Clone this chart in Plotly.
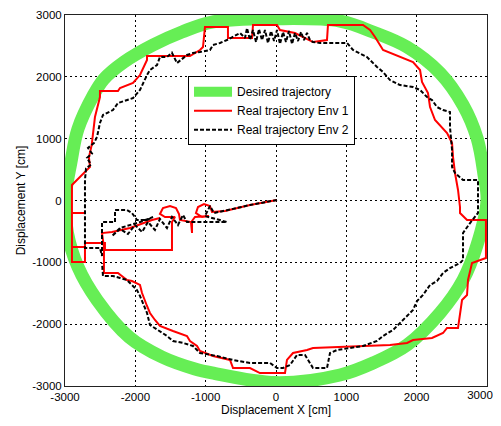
import plotly.graph_objects as go

# Desired trajectory (cm)
desired_x = [3000, 2960, 2858, 2659, 2332, 1863, 1379, 910, 0, -910,
             -1337, -1749, -2161, -2446, -2595, -2816, -2915, -3000, -2965, -2816,
             -2545, -2090, -1621, -1152, -910, 0, 910, 1379, 1863, 2332,
             2659, 2858, 3000]
desired_y = [0, 400, 1011, 1544, 2062, 2482, 2725, 2902, 2940, 2886,
             2725, 2515, 2240, 1965, 1706, 1156, 622, 0, -526, -1075,
             -1609, -2207, -2531, -2725, -2789, -2945, -2822, -2628, -2337, -1819,
             -1286, -720, 0]

# Real trajectory, environment 1 (cm)
env1_x = [14, -370, -725, -910, -939, -1024, -1109, -1138, -1052, -953,
          -1152, -1194, -1194, -1209, -1365, -1379, -1422, -1507, -1607, -1650,
          -1578, -1436, -1479, -1479, -1479, -2432, -2432, -2716, -2716, -2901,
          -2901, -2716, -2901, -2901, -2716, -2901, -2901,
          -2645, -2660, -2620, -2574, -2503, -2503, -2247, -2218, -2033, -1934,
          -1834, -1834, -1223, -1081, -1038, -1010, -683, -683, -341, -327,
          14, 57, 270, 526, 725, 739, 1237, 1337, 1408, 1522,
          1763, 1948, 2048, 2076, 2161, 2190, 2261, 2432, 2503, 2517,
          2545, 2588, 2616, 2616, 2716, 2985, 2985, 2901, 2787, 2730,
          2716, 2645, 2616, 2588, 2432, 2375, 2218, 1948, 1863, 1621,
          526, 441, 242, 156, 128, -228, -370, -611, -654, -896,
          -1081, -1123, -1223, -1266, -1465, -1650, -1721, -1792, -1834, -1905,
          -1934, -2048, -2119, -2247, -2446, -2446, -2446, -2474, -2332, -2076,
          -1763, -1650]
env1_y = [8, -73, -170, -186, -89, -57, -105, -202, -267, -251,
          -267, -331, -526, -348, -315, -218, -121, -89, -121, -218,
          -267, -267, -348, -590, -800, -800, -687, -687, -994, -994,
          -752, -752, -752, -202, -202, -202, 251,
          542, 700, 900, 1350, 1673, 1770, 1770, 1819, 1900, 2029,
          2272, 2337, 2337, 2434, 2482, 2805, 2805, 2628, 2628, 2838,
          2838, 2757, 2709, 2563, 2595, 2838, 2838, 2757, 2644, 2434,
          2320, 2240, 2110, 1916, 1738, 1512, 1302, 1092, 930, 703,
          445, 170, -105, -202, -315, -315, -930, -962, -1011, -1286,
          -1528, -1609, -1819, -2062, -2062, -2143, -2223, -2256, -2304, -2337,
          -2385, -2418, -2466, -2579, -2790, -2790, -2709, -2709, -2579, -2515,
          -2434, -2353, -2272, -2191, -2110, -2029, -1932, -1819, -1706, -1496,
          -1366, -1302, -1286, -1172, -1172, -1011, -752, -526, -509, -445,
          -315, -283]

# Real trajectory, environment 2 (cm)
env2_x = [14, -370, -683, -882, -939, -1010, -697, -1266, -1322, -1394,
          -1479, -1550, -1650, -1721, -1820, -1905, -2005, -2105, -2218, -2332,
          -2218, -1934, -1749, -1834, -1977, -2048, -2119, -2289, -2289, -2474,
          -2474, -2503, -2716, -2716, -2716, -2701, -2630, -2687, -2616, -2673,
          -2588, -2545, -2503, -2460, -2318, -2247, -2119, -2033, -1934, -1891,
          -1834, -1792, -1692, -1650, -1550, -1480, -1408, -1266, -1180, -1081,
          -939, -896, -796, -697, -611, -512, -441, -412, -370, -327,
          -284, -242, -199, -156, -114, -71, -28, 14, 57, 100,
          142, 185, 228, 270, 313, 356, 398, 441, 483, 526,
          626, 1010, 1095, 1152, 1294, 1436, 1522, 1621, 1763, 1948,
          2048, 2147, 2218, 2289, 2375, 2474, 2474, 2503, 2503, 2545,
          2659, 2872, 2872, 2759, 2659, 2659, 2616, 2474, 2375, 2289,
          2190, 2090, 2005, 1948, 1806, 1664, 1522, 1436, 1237, 1052,
          867, 768, 725, 526, 455, 412, 299, 199, 100, 14,
          -85, -270, -370, -611, -839, -1081, -1180, -1322, -1465, -1550,
          -1692, -1792, -1834, -1891, -1934, -1977, -2048, -2119, -2218, -2318,
          -2460, -2474]
env2_y = [8, -73, -154, -202, -89, -251, -348, -348, -234, -396,
          -267, -445, -299, -477, -348, -509, -396, -542, -461, -574,
          -445, -348, -267, -315, -315, -202, -154, -154, -348, -348,
          -897, -768, -768, -202, 331, 520, 580, 690, 760, 850,
          930, 1027, 1253, 1383, 1463, 1577, 1625, 1657, 1787, 1900,
          2029, 2110, 2191, 2320, 2320, 2390, 2223, 2353, 2385, 2401,
          2434, 2515, 2547, 2595, 2644, 2709, 2628, 2789, 2595, 2757,
          2563, 2773, 2595, 2757, 2547, 2741, 2579, 2757, 2531, 2725,
          2563, 2741, 2531, 2709, 2579, 2725, 2595, 2709, 2595, 2563,
          2547, 2547, 2434, 2401, 2320, 2159, 2078, 1948, 1867, 1835,
          1787, 1673, 1625, 1512, 1463, 1431, 1189, 817, 542, 445,
          331, 331, -202, -364, -526, -962, -1011, -1092, -1172, -1302,
          -1366, -1528, -1625, -1770, -1932, -2094, -2191, -2272, -2353, -2385,
          -2418, -2466, -2709, -2709, -2579, -2498, -2498, -2660, -2709, -2709,
          -2628, -2628, -2628, -2579, -2515, -2466, -2353, -2304, -2272, -2191,
          -2094, -2013, -1819, -1657, -1544, -1447, -1366, -1286, -1253, -1221,
          -1221, -1011]

x_ticks = [-3000, -2000, -1000, 0, 1000, 2000]
x_tick_labels = ["-3000", "-2000", "-1000", "0", "1000", "2000"]
# the last x label is drawn by an overlaying axis so it can be nudged inside the page
x_edge_ticks = [3000]
x_edge_labels = ["3000"]
y_ticks = [-3000, -2000, -1000, 0, 1000, 2000, 3000]
y_tick_labels = ["-3000", "-2000", "-1000", "0", "1000", "2000", "3000"]

green = "#66ee55"
font_family = "Liberation Sans"
tick_font = dict(family=font_family, size=11.5, color="#000000")

fig = go.Figure()

fig.add_trace(go.Scatter(x=desired_x, y=desired_y, mode="lines", name="Desired trajectory",
                         line=dict(color=green, width=13, shape="spline", smoothing=1.0)))
fig.add_trace(go.Scatter(x=env1_x, y=env1_y, mode="lines", name="Real trajectory Env 1",
                         line=dict(color="#ff0000", width=2)))
fig.add_trace(go.Scatter(x=env2_x, y=env2_y, mode="lines", name="Real trajectory Env 2",
                         line=dict(color="#000000", width=2, dash="4px,2px")))
# empty trace that keeps the overlaying x axis alive
fig.add_trace(go.Scatter(x=[None], y=[None], xaxis="x2", yaxis="y",
                         mode="lines", showlegend=False, hoverinfo="skip"))

axis_common = dict(
    showline=True, linecolor="#222222", linewidth=1, mirror=True,
    showgrid=True, gridcolor="#000000", gridwidth=1, griddash="2px,3px",
    zeroline=False, ticks="", layer="below traces",
    tickfont=tick_font,
)

fig.update_layout(
    xaxis=dict(range=[-3000, 3000], tickvals=x_ticks, ticktext=x_tick_labels,
               title=dict(text="Displacement X [cm]", standoff=2,
                          font=dict(family=font_family, size=12, color="#000000")),
               **axis_common),
    xaxis2=dict(range=[-3000, 3000], overlaying="x", side="bottom", anchor="y",
                tickvals=x_edge_ticks, ticktext=x_edge_labels, ticklabelshift=-7,
                showgrid=False, showline=False, zeroline=False, ticks="",
                tickfont=tick_font, layer="below traces"),
    yaxis=dict(range=[-3000, 3000], tickvals=y_ticks, ticktext=y_tick_labels,
               title=dict(text="Displacement Y [cm]", standoff=4,
                          font=dict(family=font_family, size=12, color="#000000")),
               **axis_common),
)

# the page body adds an 8 px offset, so the figure is sized to fit inside it
fig.update_layout(
    width=493, height=410,
    margin=dict(l=57, r=14, t=7, b=32, autoexpand=False),
    paper_bgcolor="white", plot_bgcolor="white",
    showlegend=True,
    legend=dict(x=0.2915, y=0.835, xanchor="left", yanchor="top",
                bgcolor="white", bordercolor="#000000", borderwidth=1,
                font=dict(family=font_family, size=12, color="#000000"),
                itemwidth=38, tracegroupgap=0),
)

fig.write_html("out.html")
